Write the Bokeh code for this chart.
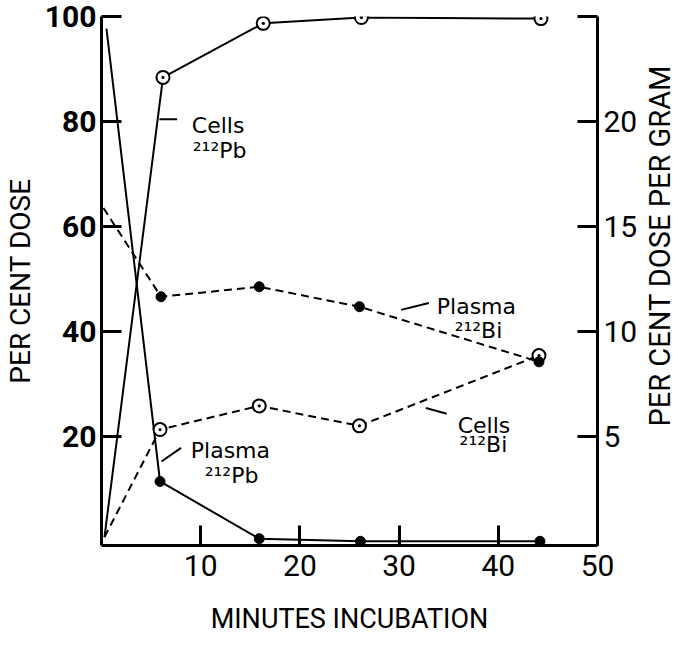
import math
from bokeh.plotting import figure
from bokeh.layouts import row
from bokeh.models import Range1d, LinearAxis, FixedTicker, Label
from bokeh.embed import file_html
from bokeh.resources import INLINE

# ---- data (minutes, per cent dose) ----
cells_pb_t = [0.3, 6.2, 16.3, 26.2, 44.3]
cells_pb = [0.8, 88.4, 98.7, 99.8, 99.6]

plasma_pb_t = [0.5, 5.9, 15.9, 26.1, 44.2]
plasma_pb = [97.7, 11.4, 0.5, 0.0, 0.0]

plasma_bi_t = [0.2, 6.0, 15.9, 26.0, 44.1]
plasma_bi = [63.5, 46.6, 48.5, 44.7, 34.2]

cells_bi_t = [0.3, 5.9, 15.9, 26.0, 44.1]
cells_bi = [0.8, 21.3, 25.8, 22.0, 35.4]

x_ticks = [10, 20, 30, 40, 50]
y_ticks = [20, 40, 60, 80, 100]
y2_ticks = [5, 10, 15, 20, 25]

TICK_FONT = "Roboto"
TITLE_FONT = "Roboto"
TXT_FONT = "DejaVu Sans"

p = figure(width=640, height=646,
           x_range=Range1d(0, 50), y_range=Range1d(-0.8, 100),
           output_backend="svg", toolbar_location=None,
           min_border_left=94, min_border_right=41,
           min_border_top=16, min_border_bottom=101)
p.extra_y_ranges = {"pg": Range1d(-0.2, 25)}
p.outline_line_color = None
p.xgrid.visible = False
p.ygrid.visible = False
p.background_fill_color = "white"
p.border_fill_color = "white"


def style_axis(ax, ticks, size, bold=False):
    ax.ticker = FixedTicker(ticks=ticks)
    ax.major_tick_in = 20
    ax.major_tick_out = 0
    ax.minor_tick_line_color = None
    ax.axis_line_width = 3
    ax.major_tick_line_width = 3
    ax.axis_line_color = "black"
    ax.major_tick_line_color = "black"
    ax.major_label_text_font = TICK_FONT
    ax.major_label_text_font_size = size
    ax.major_label_text_font_style = "bold" if bold else "normal"
    ax.major_label_text_color = "black"
    ax.axis_label_text_font = TITLE_FONT
    ax.axis_label_text_font_style = "normal"
    ax.axis_label_text_color = "black"


xa = p.xaxis[0]
style_axis(xa, x_ticks, "30px")
xa.major_label_standoff = 9
xa.axis_label = "MINUTES INCUBATION"
xa.axis_label_text_font_size = "27px"
xa.axis_label_standoff = 24

ya = p.yaxis[0]
style_axis(ya, y_ticks, "30px", bold=True)
ya.major_label_standoff = 5
ya.axis_label = "PER CENT DOSE"
ya.axis_label_text_font_size = "28px"
ya.axis_label_standoff = 5

ra = LinearAxis(y_range_name="pg")
style_axis(ra, y2_ticks, "30px")
ra.major_label_overrides = {25: ""}
ra.major_label_standoff = 6
p.add_layout(ra, "right")

DASH = "8 5"

# lines
p.line(cells_pb_t, cells_pb, line_color="black", line_width=2)
p.line(plasma_pb_t, plasma_pb, line_color="black", line_width=2)
p.line(plasma_bi_t, plasma_bi, line_color="black", line_width=2, line_dash=DASH)
p.line(cells_bi_t, cells_bi, line_color="black", line_width=2, line_dash=DASH)

# markers (the start point has no marker)
p.scatter(cells_pb_t[1:], cells_pb[1:], marker="circle_dot", size=13,
          line_color="black", line_width=2, fill_color="white")
p.scatter(cells_bi_t[1:], cells_bi[1:], marker="circle_dot", size=13,
          line_color="black", line_width=2, fill_color="white")
p.scatter(plasma_pb_t[1:], plasma_pb[1:], marker="circle", size=10,
          line_color="black", fill_color="black")
p.scatter(plasma_bi_t[1:], plasma_bi[1:], marker="circle", size=10,
          line_color="black", fill_color="black")

# annotations: (name line, isotope line, leader segment)
annotations = [
    ("Cells", (9.1, 79.3), "\u00b2\u00b9\u00b2Pb", (9.2, 74.5), (5.84, 80.4, 7.62, 80.4)),
    ("Plasma", (33.8, 44.8), "\u00b2\u00b9\u00b2Bi", (35.6, 40.1), (30.2, 44.1, 33.0, 45.4)),
    ("Cells", (35.9, 22.0), "\u00b2\u00b9\u00b2Bi", (36.1, 18.4), (32.7, 25.4, 34.8, 24.3)),
    ("Plasma", (9.0, 17.3), "\u00b2\u00b9\u00b2Pb", (10.4, 12.5), (6.04, 15.2, 8.02, 17.8)),
]
for name, (nx, ny), iso, (ix, iy), (x0, y0, x1, y1) in annotations:
    p.add_layout(Label(x=nx, y=ny, text=name, text_font=TXT_FONT,
                       text_font_size="22px", text_baseline="alphabetic",
                       text_align="left", text_color="black"))
    p.add_layout(Label(x=ix, y=iy, text=iso, text_font=TXT_FONT,
                       text_font_size="22px", text_baseline="alphabetic",
                       text_align="left", text_color="black"))
    p.segment(x0=[x0], y0=[y0], x1=[x1], y1=[y1], line_color="black", line_width=2)

# narrow strip on the right carrying the right-hand axis title (reads bottom-to-top)
t = figure(width=35, height=646, x_range=Range1d(0, 35), y_range=Range1d(0, 646),
           output_backend="svg", toolbar_location=None,
           x_axis_type=None, y_axis_type=None, min_border=0)
t.outline_line_color = None
t.xgrid.visible = False
t.ygrid.visible = False
t.add_layout(Label(x=19, y=366, text="PER CENT DOSE PER GRAM", angle=math.pi / 2,
                   text_font=TITLE_FONT, text_font_size="29px",
                   text_align="center", text_baseline="middle", text_color="black"))

open("out.html", "w").write(file_html(row(p, t), INLINE))
